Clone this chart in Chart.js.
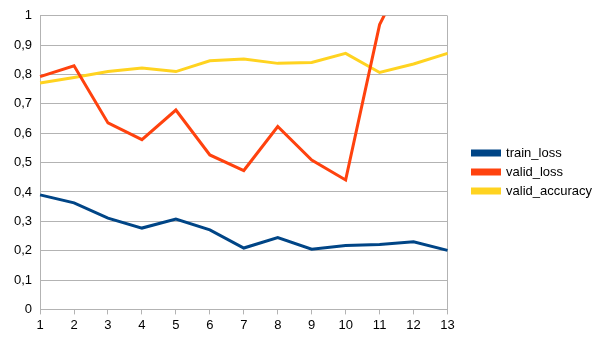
<!DOCTYPE html>
<html>
<head>
<meta charset="utf-8">
<script src="https://cdn.jsdelivr.net/npm/chart.js@4/dist/chart.umd.min.js"></script>
<style>
  html, body { margin:0; padding:0; background:#fff; }
  #wrap { width:605px; height:340px; position:relative; }
</style>
</head>
<body>
<div id="wrap"><canvas id="chart"></canvas></div>
<script>
const epochs = ['1','2','3','4','5','6','7','8','9','10','11','12','13'];
const trainLoss = [0.390, 0.363, 0.311, 0.277, 0.308, 0.271, 0.209, 0.245, 0.205, 0.218, 0.221, 0.230, 0.201];
const validLoss = [0.793, 0.830, 0.635, 0.578, 0.679, 0.526, 0.473, 0.623, 0.509, 0.441, 0.970, 1.200, 1.250];
const validAcc  = [0.771, 0.790, 0.810, 0.822, 0.810, 0.847, 0.853, 0.838, 0.841, 0.872, 0.807, 0.836, 0.872];

const GRID = '#b3b3b3';
const font = { family:'"Liberation Sans", Arial, sans-serif', size:13 };

const mkSet = (label, data, color) => ({
  label, data, borderColor: color, backgroundColor: color,
  borderWidth: 3, pointRadius: 0, tension: 0, fill: false
});

// empty layout box: keeps a gap between the plot frame and the legend
const legendGap = {
  id: 'legendGap',
  beforeInit(chart) {
    Chart.layouts.addBox(chart, {
      position: 'right', weight: 0, fullSize: false,
      options: { display: false },
      isHorizontal() { return false; },
      update(w, h) { this.width = 19; this.height = h; },
      draw() {}
    });
  }
};

new Chart(document.getElementById('chart'), {
  type: 'line',
  data: {
    labels: epochs,
    datasets: [
      mkSet('train_loss', trainLoss, '#004586'),
      mkSet('valid_loss', validLoss, '#ff420e'),
      mkSet('valid_accuracy', validAcc, '#ffd320')
    ]
  },
  plugins: [legendGap],
  options: {
    responsive: true, maintainAspectRatio: false, animation: false,
    layout: { padding: { top: 8, left: 6, right: 3, bottom: 4 } },
    plugins: {
      tooltip: { enabled: false },
      legend: {
        position: 'right',
        labels: { boxWidth: 27, boxHeight: 4, padding: 6, color: '#000', font }
      }
    },
    scales: {
      x: {
        grid: {
          color: c => c.index === epochs.length - 1 ? GRID : 'transparent',
          tickColor: GRID, tickLength: 5
        },
        border: { color: GRID },
        ticks: { color: '#000', font, padding: 3, maxRotation: 0 }
      },
      y: {
        min: 0, max: 1,
        grid: { color: GRID, drawTicks: false },
        border: { color: GRID },
        ticks: {
          stepSize: 0.1, color: '#000', font, padding: 8,
          callback: v => String(Math.round(v * 10) / 10).replace('.', ',')
        }
      }
    }
  }
});
</script>
</body>
</html>
